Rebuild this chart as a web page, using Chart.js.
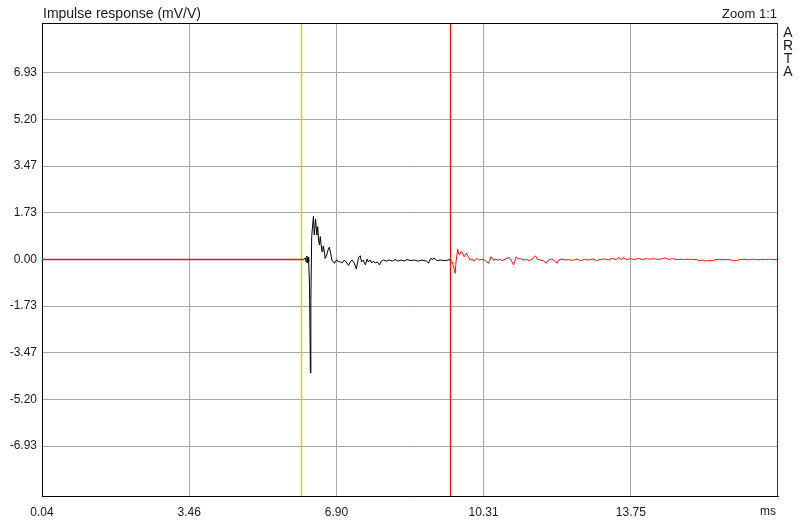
<!DOCTYPE html>
<html>
<head>
<meta charset="utf-8">
<script src="https://cdn.jsdelivr.net/npm/chart.js@4/dist/chart.umd.min.js"></script>
<style>
  html, body { margin: 0; padding: 0; background: #ffffff; }
  canvas { display: block; }
</style>
</head>
<body>
<canvas id="c" width="800" height="522"></canvas>
<script>
// ---- Data (time in ms, impulse response in mV/V) ----
const chartTitle = "Impulse response (mV/V)";
const zoomLabel = "Zoom 1:1";
const brandLetters = ["A", "R", "T", "A"];
const xUnit = "ms";

const xTickValues = [0.04, 3.4675, 6.895, 10.3225, 13.75];
const xTickLabels = ["0.04", "3.46", "6.90", "10.31", "13.75"];
const yTickValues = [6.93, 5.1975, 3.465, 1.7325, 0, -1.7325, -3.465, -5.1975, -6.93];
const yTickLabels = ["6.93", "5.20", "3.47", "1.73", "0.00", "-1.73", "-3.47", "-5.20", "-6.93"];
const xMin = 0.04, xMax = 17.1775;
const yMin = -8.78, yMax = 8.743;

const startCursor = 6.07;   // yellow cursor (ms)
const endCursor = 9.55;     // red cursor (ms)

// before the window (red, flat)
const preTimes  = [0.04, 6.14];
const preValues = [0, 0];

// inside the window (black)
const windowTimes = [6.14, 6.17, 6.19, 6.21, 6.22, 6.24, 6.25, 6.27, 6.29, 6.30, 6.32, 6.34, 6.36, 6.38, 6.41, 6.44,
  6.46, 6.48, 6.50, 6.52, 6.54, 6.56, 6.58, 6.59, 6.62, 6.63, 6.67, 6.70, 6.73, 6.76, 6.79, 6.82, 6.85, 6.88, 6.91,
  6.94, 6.97, 7.01, 7.03, 7.08, 7.12, 7.18, 7.22, 7.26, 7.31, 7.36, 7.39, 7.41, 7.45, 7.48, 7.52, 7.57, 7.61, 7.64,
  7.68, 7.72, 7.76, 7.80, 7.85, 7.90, 7.94, 7.99, 8.06, 8.13, 8.20, 8.26, 8.33, 8.40, 8.47, 8.54, 8.61, 8.71, 8.80,
  8.89, 8.99, 9.04, 9.09, 9.14, 9.17, 9.23, 9.31, 9.41, 9.50, 9.55];
const windowValues = [0, 0.06, -0.09, 0.13, -0.13, 0.09, -0.09, -1.0, -4.21, -1.5, 0.85, 1.24, 1.60, 0.91, 1.50, 0.91,
  1.22, 0.72, 0.54, 0.85, 0.54, 0.29, 0.43, 0.50, 0.24, 0.04, 0.17, 0.35, 0.46, 0.24, -0.02, -0.09, -0.14, -0.04, -0.02,
  -0.09, -0.08, -0.11, -0.13, -0.02, -0.09, -0.22, -0.09, -0.02, -0.13, -0.35, -0.09, 0.06, 0.14, -0.09, -0.02, -0.20, 0.02, -0.09,
  -0.02, -0.13, -0.06, -0.13, -0.09, -0.20, -0.06, -0.02, -0.06, -0.02, -0.06, 0.00, -0.06, -0.02, -0.06, 0.00, -0.04, -0.02, -0.06,
  -0.02, -0.06, -0.13, 0.04, 0.00, 0.06, -0.04, -0.02, -0.04, -0.02, 0];

// after the window (red)
const postTimes = [9.55, 9.58, 9.62, 9.66, 9.68, 9.72, 9.74, 9.76, 9.79, 9.81, 9.84, 9.87, 9.92, 9.97, 10.01, 10.06,
  10.09, 10.13, 10.17, 10.21, 10.27, 10.34, 10.39, 10.44, 10.47, 10.49, 10.53, 10.56, 10.59, 10.65, 10.71, 10.77, 10.83,
  10.91, 10.96, 11.02, 11.05, 11.08, 11.13, 11.18, 11.25, 11.32, 11.39, 11.46, 11.53, 11.57, 11.64, 11.71, 11.78, 11.83,
  11.90, 11.97, 12.03, 12.07, 12.15, 12.23, 12.30, 12.39, 12.48, 12.58, 12.67, 12.76, 12.86, 12.95, 13.04, 13.13, 13.23,
  13.32, 13.41, 13.48, 13.53, 13.58, 13.65, 13.74, 13.83, 13.93, 14.02, 14.11, 14.21, 14.30, 14.39, 14.49, 14.56, 14.63,
  14.72, 14.81, 14.91, 15.00, 15.09, 15.19, 15.28, 15.35, 15.42, 15.49, 15.56, 15.63, 15.70, 15.79, 15.88, 15.98, 16.07,
  16.14, 16.21, 16.30, 16.40, 16.49, 16.58, 16.68, 16.77, 16.86, 16.96, 17.05, 17.14, 17.18];
const postValues = [0, -0.06, -0.24, -0.51, -0.09, 0.38, 0.20, 0.17, 0.28, 0.29, 0.20, 0.10, 0.23, 0.09, -0.02, 0.02,
  -0.07, 0.00, 0.04, -0.02, 0.00, -0.02, -0.07, -0.14, -0.02, 0.10, 0.04, -0.04, 0.02, -0.02, 0.00, -0.04, 0.02,
  0.08, -0.02, -0.20, -0.06, 0.10, 0.02, 0.04, -0.02, 0.00, -0.04, 0.02, 0.14, 0.02, -0.02, -0.04, -0.14, -0.02,
  0.02, -0.04, -0.14, -0.02, 0.02, -0.02, 0.00, -0.04, 0.02, -0.04, 0.00, -0.02, 0.02, -0.04, 0.00, 0.02, -0.01,
  0.04, 0.00, 0.08, -0.02, 0.07, 0.00, 0.03, 0.00, 0.04, 0.00, 0.03, 0.01, 0.03, 0.00, 0.03, 0.06, 0.00,
  0.03, 0.00, 0.01, 0.00, 0.01, 0.00, 0.00, -0.05, -0.02, -0.06, -0.03, -0.05, -0.02, 0.01, -0.01, 0.00, -0.01,
  -0.05, -0.04, 0.00, 0.01, -0.01, 0.01, -0.01, 0.00, 0.00, 0.01, 0.00, 0.00, 0];

// ---- Styles ----
const RED = "#f01010";
const BLACK = "#000000";
const YELLOW = "#d4d420";
const GRID = "#a8a8a8";
const TEXT = "#1a1a1a";
const FONT = "'Liberation Sans', Arial, sans-serif";

function pts(xs, ys) { return xs.map((x, i) => ({ x: x, y: ys[i] })); }

const decorPlugin = {
  id: "decor",
  beforeDatasetsDraw(chart) {
    const { ctx, chartArea: a, scales } = chart;
    ctx.save();
    ctx.lineWidth = 1.5;
    const xs = Math.round(scales.x.getPixelForValue(startCursor)) + 0.5;
    ctx.strokeStyle = YELLOW;
    ctx.beginPath(); ctx.moveTo(xs, a.top); ctx.lineTo(xs, a.bottom); ctx.stroke();
    ctx.lineWidth = 1.25;
    const xe = Math.round(scales.x.getPixelForValue(endCursor)) + 0.5;
    ctx.strokeStyle = RED;
    ctx.beginPath(); ctx.moveTo(xe, a.top); ctx.lineTo(xe, a.bottom); ctx.stroke();
    ctx.restore();
  },
  afterDraw(chart) {
    const { ctx, chartArea: a } = chart;
    ctx.save();
    ctx.lineWidth = 1;
    ctx.strokeStyle = "#000";
    ctx.beginPath();
    ctx.moveTo(Math.round(a.left), Math.round(a.top) - 0.5);
    ctx.lineTo(Math.round(a.right), Math.round(a.top) - 0.5);
    ctx.stroke();
    ctx.strokeStyle = "#333";
    ctx.beginPath();
    ctx.moveTo(Math.round(a.right) - 0.5, Math.round(a.top) - 1);
    ctx.lineTo(Math.round(a.right) - 0.5, Math.round(a.bottom) + 1);
    ctx.stroke();
    ctx.fillStyle = TEXT;
    ctx.textBaseline = "alphabetic";
    ctx.textAlign = "left";
    ctx.font = "14px " + FONT;
    ctx.fillText(chartTitle, a.left + 1, 18);
    ctx.font = "13px " + FONT;
    ctx.textAlign = "right";
    ctx.fillText(zoomLabel, a.right - 1, 18);
    ctx.textAlign = "center";
    ctx.font = "14px " + FONT;
    brandLetters.forEach((ch, i) => ctx.fillText(ch, a.right + 10, 37 + i * 13));
    ctx.font = "12px " + FONT;
    ctx.textBaseline = "middle";
    ctx.fillText(xUnit, a.right - 10, 512);
    ctx.restore();
  }
};

new Chart(document.getElementById("c"), {
  type: "line",
  data: {
    datasets: [
      { data: pts(preTimes, preValues), borderColor: RED, borderWidth: 1.5 },
      { data: pts(windowTimes, windowValues), borderColor: BLACK, borderWidth: 1 },
      { data: pts(postTimes, postValues), borderColor: RED, borderWidth: 1 }
    ].map(d => Object.assign(d, { pointRadius: 0, tension: 0, fill: false }))
  },
  options: {
    responsive: false,
    devicePixelRatio: 1,
    animation: false,
    parsing: false,
    layout: { padding: { top: 24, right: 22, left: 0, bottom: 0 } },
    plugins: { legend: { display: false }, tooltip: { enabled: false }, title: { display: false } },
    scales: {
      x: {
        type: "linear", min: xMin, max: xMax,
        afterBuildTicks: s => { s.ticks = xTickValues.map(v => ({ value: v })); },
        afterFit: s => { s.height = 26; },
        grid: { color: GRID, drawTicks: false, lineWidth: 1 },
        border: { display: true, color: "#000" },
        ticks: {
          padding: 9, color: TEXT, font: { family: FONT, size: 12 }, maxRotation: 0, autoSkip: false,
          callback: (v, i) => xTickLabels[i]
        }
      },
      y: {
        type: "linear", min: yMin, max: yMax,
        afterBuildTicks: s => { s.ticks = yTickValues.map(v => ({ value: v })); },
        afterFit: s => { s.width = 42; },
        grid: {
          color: c => (c.tick && c.tick.value === 0 ? "rgba(0,0,0,0)" : GRID),
          drawTicks: false, lineWidth: 1
        },
        border: { display: true, color: "#000" },
        ticks: {
          padding: 5, color: TEXT, font: { family: FONT, size: 12 }, autoSkip: false,
          callback: (v, i) => yTickLabels[i]
        }
      }
    }
  },
  plugins: [decorPlugin]
});
</script>
</body>
</html>
